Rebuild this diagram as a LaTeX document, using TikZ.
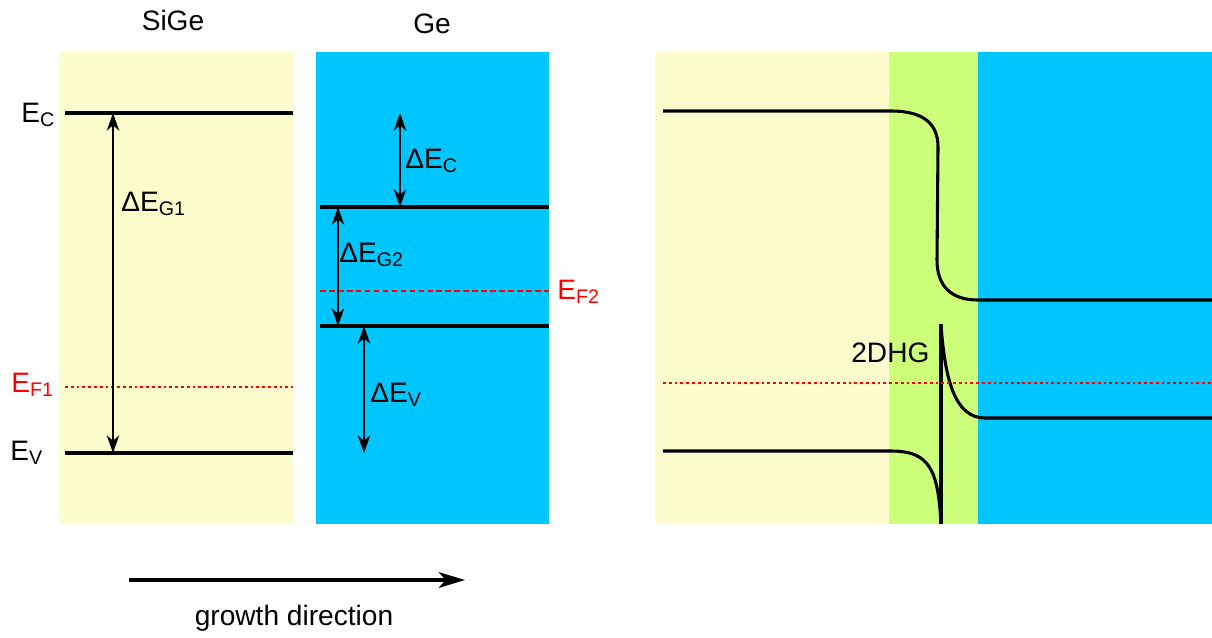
\documentclass[tikz,border=0pt]{standalone}
\usepackage{fontspec}
\setmainfont{Liberation Sans}
\usepackage{xcolor}
\usepackage{tikz}
\usetikzlibrary{arrows.meta,positioning}

\definecolor{sigefill}{RGB}{252,252,204}
\definecolor{gefill}{RGB}{0,198,255}
\definecolor{wellfill}{RGB}{204,255,122}

\tikzset{
	band/.style={line width=1.75pt},
	gap/.style={<->, line width=1.3pt},
	fermidot/.style={red, line width=1.6pt, dash pattern=on 1.6pt off 1.7pt},
	fermidash/.style={red, line width=1.6pt, dash pattern=on 3.2pt off 1.9pt},
	lbl/.style={inner sep=0pt, anchor=base west},
}

\begin{document}
\begin{tikzpicture}[x=0.02cm, y=-0.02cm, >={Stealth[length=10pt,width=7pt,inset=3pt]}, font=\fontsize{16}{19}\selectfont]
		\useasboundingbox (0,0) rectangle (1212,637);
		
		% flat bands, before contact
		\fill[sigefill] (59,52) rectangle (293,524);
		\fill[gefill] (316,52) rectangle (549,524);
		
		\coordinate (ECa) at (113,113);
		\coordinate (EVa) at (113,453);
		\coordinate (ECb) at (400,113);
		\coordinate (ECc) at (400,207);
		\coordinate (EGb) at (338,207);
		\coordinate (EVb) at (338,326);
		\coordinate (EVc) at (364,326);
		\coordinate (EVd) at (364,453);
		
		\draw[band] (65,113) -- (293,113);
		\draw[band] (65,453) -- (293,453);
		\draw[fermidot] (65,387) -- (293,387);
		\draw[band] (320,207) -- (549,207);
		\draw[band] (320,326) -- (549,326);
		\draw[fermidash] (320,291) -- (549,291);
		
		\draw[gap] (ECa) -- (EVa);
		\draw[gap] (ECb) -- (ECc);
		\draw[gap] (EGb) -- (EVb);
		\draw[gap] (EVc) -- (EVd);
		
		\node[lbl, anchor=base] (sige) at (173,30) {SiGe};
		\node[lbl, anchor=base] (ge) at (432,33) {Ge};
		\node[lbl] (ec) at (21,122) {E\textsubscript{C}};
		\node[lbl] (ev) at (10,460) {E\textsubscript{V}};
		\node[lbl, red] (ef1) at (11,392) {E\textsubscript{F1}};
		\node[lbl, red] (ef2) at (557,299) {E\textsubscript{F2}};
		\node[lbl] (dg1) at (121,211) {ΔE\textsubscript{G1}};
		\node[lbl] (dc) at (405,168) {ΔE\textsubscript{C}};
		\node[lbl] (dg2) at (339,262) {ΔE\textsubscript{G2}};
		\node[lbl] (dv) at (370,402) {ΔE\textsubscript{V}};
		
		\coordinate (gl) at (129,580);
		\coordinate (gr) at (465,580);
		\draw[-{Stealth[length=15pt,width=9pt,inset=4pt]}, line width=1.75pt] (gl) -- (gr);
		\node[lbl, anchor=base] (growth) at (294,625) {growth direction};
		
		% heterojunction in contact
		\fill[sigefill] (655,52) rectangle (890,524);
		\fill[wellfill] (889,52) rectangle (978,524);
		\fill[gefill] (978,52) rectangle (1212,524);
		
		\draw[band] (663,111) -- (891,111) .. controls (925,111) and (938,125) .. (938,147)
			-- (937,260) .. controls (937,287) and (952,300) .. (978,300) -- (1212,300);
		\draw[band] (663,451) -- (891,451) .. controls (930,451) and (938,470) .. (941,524);
		\draw[band] (941,324) -- (941,524);
		\draw[band] (941,325) .. controls (945,380) and (955,418) .. (985,418) -- (1212,418);
		\draw[fermidot] (663,383) -- (1212,383);
		
		\node[lbl] (hg) at (851,362) {2DHG};
	\end{tikzpicture}
\end{document}
